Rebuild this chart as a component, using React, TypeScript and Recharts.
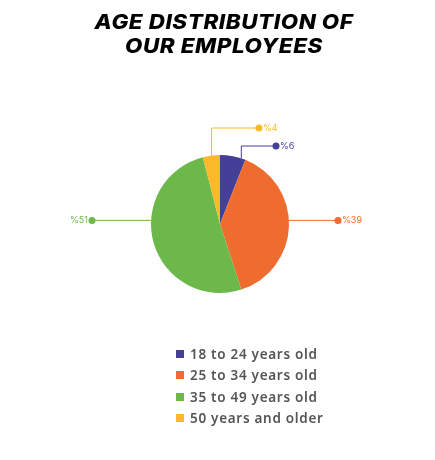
import { PieChart, Pie, Cell, Legend } from "recharts"

const ageGroups = ["18 to 24 years old", "25 to 34 years old", "35 to 49 years old", "50 years and older"]
const shares = [6, 39, 51, 4]
const colors = ["#463f98", "#ef6c2f", "#6cb84a", "#f9b928"]

const data = ageGroups.map((name, i) => ({ name, value: shares[i] }))

// where each leader line leaves the pie and where it ends (relative to centre)
const leaders = [
  { angle: 72, elbowY: -78, endX: 56 },
  { angle: 3, elbowY: null, endX: 118 },
  { angle: 177, elbowY: null, endX: -128 },
  { angle: 97, elbowY: -96, endX: 39 },
]

const RAD = Math.PI / 180

const renderLabel = (props: any) => {
  const { cx, cy, outerRadius, index } = props
  const l = leaders[index]
  const color = colors[index]
  const sx = cx + outerRadius * Math.cos(l.angle * RAD)
  const sy = cy - outerRadius * Math.sin(l.angle * RAD)
  const ex = cx + l.endX
  let points: string
  let ey: number
  if (l.elbowY !== null) {
    ey = cy + l.elbowY
    points = `${sx},${sy} ${sx},${ey} ${ex},${ey}`
  } else {
    ey = sy
    points = `${sx},${sy} ${ex},${ey}`
  }
  const right = ex > cx
  return (
    <g key={`label-${index}`}>
      <polyline points={points} fill="none" stroke={color} strokeWidth={1} />
      <circle cx={ex} cy={ey} r={3.5} fill={color} />
      <text
        x={right ? ex + 4 : ex - 4}
        y={ey}
        dy={3}
        textAnchor={right ? "start" : "end"}
        fill={color}
        fontSize={9}
        fontFamily="Inter, sans-serif"
      >
        %{shares[index]}
      </text>
    </g>
  )
}

const renderLegend = () => (
  <div style={{ display: "flex", flexDirection: "column", gap: 4 }}>
    {ageGroups.map((name, i) => (
      <div key={name} style={{ display: "flex", alignItems: "center", height: 17.5 }}>
        <span style={{ width: 8, height: 8, background: colors[i], marginRight: 6 }} />
        <span style={{ fontSize: 13.5, fontWeight: 600, color: "#555", fontFamily: "'Noto Sans', sans-serif", letterSpacing: 0.7 }}>
          {name}
        </span>
      </div>
    ))}
  </div>
)

const titleStyle = {
  position: "absolute" as const,
  left: 0,
  width: 448,
  textAlign: "center" as const,
  fontFamily: "Inter, sans-serif",
  fontWeight: 800,
  fontStyle: "italic",
  fontSize: 20,
  lineHeight: "24px",
  color: "#000",
  letterSpacing: 0.5,
  transform: "scaleX(1.12)",
  transformOrigin: "224px 0",
}

export default function App() {
  return (
    <div style={{ position: "fixed", left: 0, top: 0, width: 435, height: 460, background: "#fff" }}>
      <div style={{ ...titleStyle, top: 10 }}>AGE DISTRIBUTION OF</div>
      <div style={{ ...titleStyle, top: 34 }}>OUR EMPLOYEES</div>
      <PieChart
        width={435}
        height={460}
        margin={{ top: 0, right: 0, bottom: 0, left: 0 }}
        style={{ position: "absolute", left: 0, top: 0 }}
      >
        <Pie
          data={data}
          dataKey="value"
          cx={220}
          cy={224}
          outerRadius={69}
          startAngle={90}
          endAngle={-270}
          stroke="none"
          label={renderLabel}
          labelLine={false}
          isAnimationActive={false}
        >
          {data.map((d, i) => (
            <Cell key={d.name} fill={colors[i]} />
          ))}
        </Pie>
        <Legend
          layout="vertical"
          content={renderLegend}
          wrapperStyle={{ position: "absolute", left: 176, top: 345, width: 200 }}
        />
      </PieChart>
    </div>
  )
}
